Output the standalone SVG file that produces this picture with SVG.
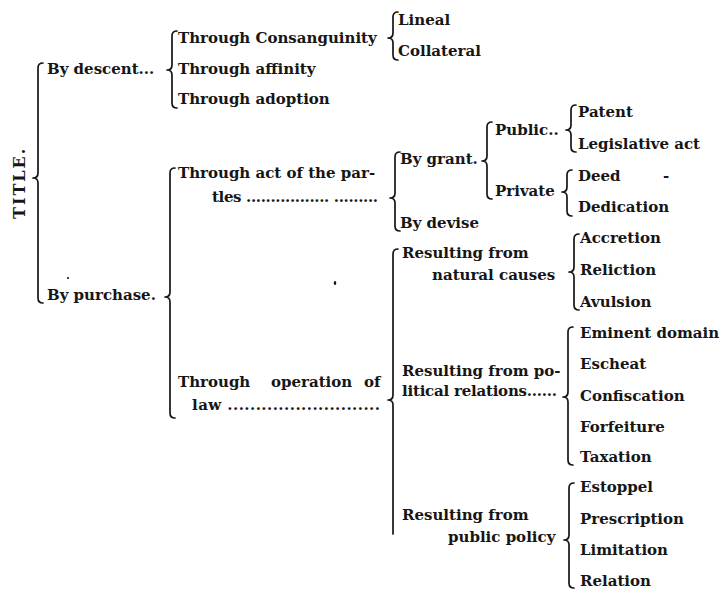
<svg xmlns="http://www.w3.org/2000/svg" width="721" height="589" viewBox="0 0 721 589">
<style>
text{font-family:"DejaVu Serif","Liberation Serif",serif;font-size:15px;font-weight:bold;fill:#161616}
.title{font-size:16px;letter-spacing:2px}
.brace{fill:none;stroke:#161616;stroke-width:1.7;stroke-linecap:round;stroke-linejoin:round}
</style>
<rect width="721" height="589" fill="#fff"/>
<g id="connectors" class="brace">
<path d="M43,63 Q38,63 38,68 V173 Q38,178 33,178 Q38,178 38,183 V298 Q38,303 43,303"/>
<path d="M177,31 Q172,31 172,36 V65 Q172,70 167,70 Q172,70 172,75 V103 Q172,108 177,108"/>
<path d="M398,12 Q393,12 393,17 V33 Q393,38 388,38 Q393,38 393,43 V55 Q393,60 398,60"/>
<path d="M175,168 Q170,168 170,173 V292 Q170,297 165,297 Q170,297 170,302 V413 Q170,418 175,418"/>
<path d="M400,152 Q395,152 395,157 V193 Q395,198 390,198 Q395,198 395,203 V226 Q395,231 400,231"/>
<path d="M492,122 Q487,122 487,127 V156 Q487,161 482,161 Q487,161 487,166 V194 Q487,199 492,199"/>
<path d="M576,105 Q571,105 571,110 V125 Q571,130 566,130 Q571,130 571,135 V147 Q571,152 576,152"/>
<path d="M572,170 Q567,170 567,175 V187 Q567,192 562,192 Q567,192 567,197 V211 Q567,216 572,216"/>
<path d="M398,249 Q393,249 393,254 V395 Q393,400 388,400 Q393,400 393,405 V534"/>
<path d="M579,234 Q574,234 574,239 V267 Q574,272 569,272 Q574,272 574,277 V305 Q574,310 579,310"/>
<path d="M573,327 Q568,327 568,332 V392 Q568,397 563,397 Q568,397 568,402 V460 Q568,465 573,465"/>
<path d="M574,483 Q569,483 569,488 V535 Q569,540 564,540 Q569,540 569,545 V583 Q569,588 574,588"/>
</g>
<g id="title"><text class="title" transform="translate(25,219) rotate(-90)">TITLE.</text></g>
<g id="by-descent"><text x="47" y="74">By descent...</text></g>
<g id="by-purchase"><text x="47" y="300">By purchase.</text></g>
<g id="consanguinity"><text x="178" y="43">Through Consanguinity</text></g>
<g id="affinity"><text x="178" y="74">Through affinity</text></g>
<g id="adoption"><text x="178" y="104">Through adoption</text></g>
<g id="lineal"><text x="398" y="25">Lineal</text></g>
<g id="collateral"><text x="398" y="56">Collateral</text></g>
<g id="act-of-parties"><text x="178" y="178">Through act of the par-</text><text x="212" y="202" textLength="166" lengthAdjust="spacing">tles ................. .........</text></g>
<g id="operation-of-law"><text y="387"><tspan x="178">Through</tspan><tspan x="271">operation</tspan><tspan x="364">of</tspan></text><text x="192" y="410" textLength="188" lengthAdjust="spacing">law ...........................</text></g>
<g id="by-grant"><text x="400" y="164">By grant.</text></g>
<g id="by-devise"><text x="400" y="228">By devise</text></g>
<g id="public"><text x="495" y="135">Public..</text></g>
<g id="private"><text x="495" y="196">Private</text></g>
<g id="patent"><text x="578" y="117">Patent</text></g>
<g id="legislative"><text x="578" y="149">Legislative act</text></g>
<g id="deed"><text x="578" y="181">Deed</text><text x="663" y="181">-</text></g>
<g id="dedication"><text x="578" y="212">Dedication</text></g>
<g id="natural"><text x="402" y="258">Resulting from</text><text x="432" y="280">natural causes</text></g>
<g id="political"><text x="402" y="376">Resulting from po-</text><text x="402" y="396" textLength="155" lengthAdjust="spacing">litical relations......</text></g>
<g id="public-policy"><text x="402" y="520">Resulting from</text><text x="448" y="542">public policy</text></g>
<g id="accretion"><text x="580" y="243">Accretion</text></g>
<g id="reliction"><text x="580" y="275">Reliction</text></g>
<g id="avulsion"><text x="580" y="307">Avulsion</text></g>
<g id="eminent"><text x="580" y="338">Eminent domain</text></g>
<g id="escheat"><text x="580" y="369">Escheat</text></g>
<g id="confiscation"><text x="580" y="401">Confiscation</text></g>
<g id="forfeiture"><text x="580" y="432">Forfeiture</text></g>
<g id="taxation"><text x="580" y="462">Taxation</text></g>
<g id="estoppel"><text x="580" y="492">Estoppel</text></g>
<g id="prescription"><text x="580" y="524">Prescription</text></g>
<g id="limitation"><text x="580" y="555">Limitation</text></g>
<g id="relation"><text x="580" y="586">Relation</text></g>
<g id="specks" fill="#161616"><circle cx="68" cy="278" r="1.1"/><ellipse cx="335" cy="283" rx="1.3" ry="2"/></g>
</svg>
